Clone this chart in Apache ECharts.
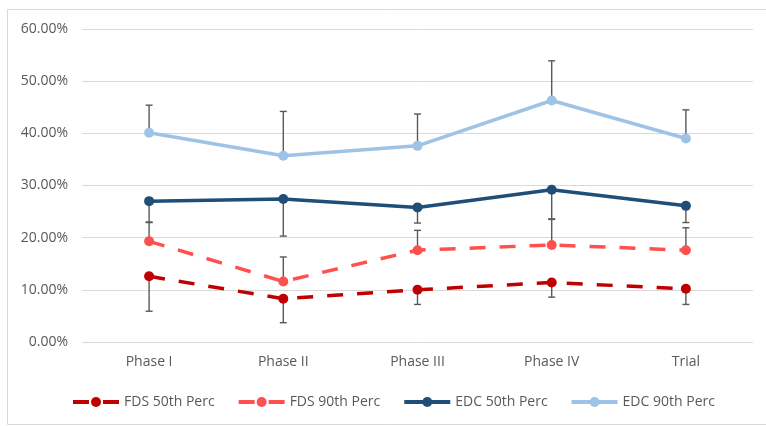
<!DOCTYPE html>
<html>
<head>
<meta charset="utf-8">
<script src="https://cdn.jsdelivr.net/npm/echarts@6/dist/echarts.min.js"></script>
<style>
html,body{margin:0;padding:0;background:#fff;}
#chart{width:766px;height:426px;}
</style>
</head>
<body>
<div id="chart"></div>
<script>
const categories = ['Phase I', 'Phase II', 'Phase III', 'Phase IV', 'Trial'];
const yTicks = [0, 10, 20, 30, 40, 50, 60];

const fds50 = [12.6, 8.3, 10.0, 11.4, 10.2];
const fds50ErrEnd = [5.9, 3.7, 7.2, 8.6, 7.2];
const fds90 = [19.3, 11.6, 17.6, 18.6, 17.6];
const fds90ErrEnd = [22.9, 16.3, 21.4, 23.5, 21.9];
const edc50 = [27.0, 27.4, 25.8, 29.2, 26.1];
const edc50ErrEnd = [23.0, 20.3, 22.8, 23.6, 22.9];
const edc90 = [40.1, 35.7, 37.6, 46.3, 39.0];
const edc90ErrEnd = [45.4, 44.2, 43.7, 53.9, 44.5];

const seriesNames = ['FDS 50th Perc', 'FDS 90th Perc', 'EDC 50th Perc', 'EDC 90th Perc'];
const colors = ['#C00000', '#FF5050', '#1F4E79', '#9DC3E6'];

function lineSeries(name, data, color, dashed) {
  return {
    name: name,
    type: 'line',
    data: data,
    symbol: 'circle',
    symbolSize: 10,
    z: 3,
    itemStyle: { color: color },
    lineStyle: { color: color, width: 3.5, type: dashed ? [16, 14] : 'solid', cap: 'butt' },
    emphasis: { disabled: true },
    animation: false
  };
}

function errSeries(vals, ends) {
  return {
    type: 'custom',
    z: 2,
    silent: true,
    animation: false,
    data: vals.map((v, i) => [i, v, ends[i]]),
    renderItem: function (params, api) {
      const p0 = api.coord([api.value(0), api.value(1)]);
      const p1 = api.coord([api.value(0), api.value(2)]);
      const hw = 3.5;
      const st = { stroke: '#595959', lineWidth: 1.4, fill: null };
      return {
        type: 'group',
        children: [
          { type: 'line', shape: { x1: p0[0], y1: p0[1], x2: p1[0], y2: p1[1] }, style: st },
          { type: 'line', shape: { x1: p1[0] - hw, y1: p1[1], x2: p1[0] + hw, y2: p1[1] }, style: st }
        ]
      };
    }
  };
}

const chart = echarts.init(document.getElementById('chart'), null, { renderer: 'canvas' });
chart.setOption({
  animation: false,
  textStyle: { fontFamily: 'Open Sans' },
  graphic: [{
    type: 'rect',
    shape: { x: 7.5, y: 9.5, width: 780, height: 415 },
    style: { fill: null, stroke: '#D9D9D9', lineWidth: 1 },
    silent: true
  }],
  grid: { left: 82, right: 13, top: 29, bottom: 84 },
  legend: {
    left: 66,
    top: 390,
    itemWidth: 46,
    itemHeight: 12.5,
    itemGap: 22,
    data: seriesNames,
    lineStyle: { width: 4 },
    textStyle: { color: '#595959', fontSize: 14, fontFamily: 'Open Sans' }
  },
  xAxis: {
    type: 'category',
    data: categories,
    boundaryGap: true,
    axisLine: { show: false },
    axisTick: { show: false },
    axisLabel: { color: '#595959', fontSize: 14, margin: 13, fontFamily: 'Open Sans' }
  },
  yAxis: {
    type: 'value',
    min: yTicks[0],
    max: yTicks[yTicks.length - 1],
    interval: yTicks[1] - yTicks[0],
    axisLine: { show: false },
    axisTick: { show: false },
    splitLine: { lineStyle: { color: '#D9D9D9', width: 1 } },
    axisLabel: {
      color: '#595959', fontSize: 14, margin: 14, fontFamily: 'Open Sans',
      formatter: v => v.toFixed(2) + '%'
    }
  },
  series: [
    lineSeries(seriesNames[0], fds50, colors[0], true),
    lineSeries(seriesNames[1], fds90, colors[1], true),
    lineSeries(seriesNames[2], edc50, colors[2], false),
    lineSeries(seriesNames[3], edc90, colors[3], false),
    errSeries(fds50, fds50ErrEnd),
    errSeries(fds90, fds90ErrEnd),
    errSeries(edc50, edc50ErrEnd),
    errSeries(edc90, edc90ErrEnd)
  ]
});
</script>
</body>
</html>
